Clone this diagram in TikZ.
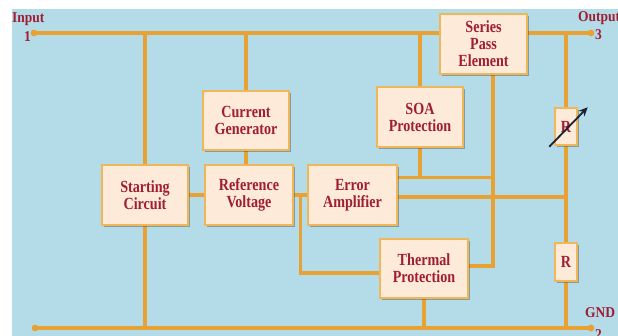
\documentclass[tikz,border=0pt]{standalone}
\usepackage{fontspec}
\setmainfont{Liberation Serif}[FakeStretch=0.83]
\newfontfamily\lblfont{Liberation Serif}[FakeStretch=0.9]
\usetikzlibrary{shadows,arrows.meta,backgrounds,calc}
\definecolor{bgblue}{HTML}{B3DCE8}
\definecolor{wirec}{HTML}{E8A234}
\definecolor{boxfill}{HTML}{FDEAD8}
\definecolor{boxline}{HTML}{EDB75A}
\definecolor{txtred}{HTML}{A01E32}
\definecolor{arrowc}{HTML}{1B2233}
\begin{document}
\begin{tikzpicture}[x=1pt,y=-1pt,
  blk/.style={draw=boxline, line width=1.5pt, fill=boxfill,
    drop shadow={shadow xshift=2.2pt, shadow yshift=-2.5pt, fill=black!70, opacity=0.45},
    text=txtred, font=\fontsize{17}{17}\selectfont\bfseries, align=center, inner sep=0pt},
  wire/.style={draw=wirec, line width=3.4pt},
  lbl/.style={text=txtred, font=\lblfont\fontsize{15}{15}\selectfont\bfseries, inner sep=0pt},
  termdot/.style={fill=wirec}]
\useasboundingbox (0,0) rectangle (618,336);
% boxes
\node[blk, minimum width=86pt, minimum height=60pt] (start) at (145,195) {Starting\\Circuit};
\node[blk, minimum width=88pt, minimum height=60pt] (ref) at (249,195) {Reference\\Voltage};
\node[blk, minimum width=86pt, minimum height=59pt] (curr) at (246,120.5) {Current\\Generator};
\node[blk, minimum width=89pt, minimum height=60pt] (err) at (352.5,195) {Error\\Amplifier};
\node[blk, minimum width=86pt, minimum height=60pt] (soa) at (420,117) {SOA\\Protection};
\node[blk, minimum width=87pt, minimum height=60pt] (sp) at (483.5,44) {Series\\Pass\\Element};
\node[blk, minimum width=88pt, minimum height=59pt] (therm) at (424,268.5) {Thermal\\Protection};
\node[blk, minimum width=22pt, minimum height=37pt] (rvar) at (566,126.5) {R};
\node[blk, minimum width=22pt, minimum height=38pt] (r2) at (566,262) {R};
% terminals
\coordinate (in1) at (34,33);
\coordinate (out3) at (591,33);
\coordinate (gnd1) at (35,328);
\coordinate (gnd2) at (591,328);
\coordinate (spb) at ($(sp.south)+(9.5,0)$);
\coordinate (j1) at ($(ref.east)!0.5!(err.west)$);
\coordinate (e1) at ($(err.north east)!0.217!(err.south east)$);
\coordinate (e2) at ($(err.north east)!0.533!(err.south east)$);
% labels
\node[lbl, anchor=base west] (linput) at (12,22.5) {Input};
\node[lbl, anchor=base east] (lone) at (31,42) {1};
\node[lbl, anchor=base west] (loutput) at (578,22) {Output};
\node[lbl, anchor=base west] (lthree) at (595,40) {3};
\node[lbl, anchor=base west] (lgnd) at (585,318) {GND};
\node[lbl, anchor=base west] (ltwo) at (595,340) {2};
% variable resistor arrow
\draw[arrowc, line width=1.8pt, -{Stealth[length=9pt,width=8pt]}]
  ($(rvar.south west)+(-5,1)$) -- ($(rvar.north east)+(10,0)$);
\begin{scope}[on background layer]
  \fill[white] (0,0) rectangle (618,336);
  \fill[bgblue] (12,9) rectangle (618,336);
  % input rail
  \draw[wire] (in1) -- (in1 -| sp.west);
  \draw[wire] (sp.east |- out3) -- (out3);
  \draw[wire] (start.north) -- (start.north |- in1);
  \draw[wire] (curr.north) -- (curr.north |- in1);
  \draw[wire] (soa.north) -- (soa.north |- in1);
  \draw[wire] (curr.south) -- (curr.south |- ref.north);
  \draw[wire] (start.east) -- (ref.west);
  \draw[wire] (ref.east) -- (err.west);
  \draw[wire] (j1) |- ($(therm.west)+(0,4.5)$);
  \draw[wire] (e1) -- (spb |- e1);
  \draw[wire] (soa.south) -- (soa.south |- e1);
  \draw[wire] (e2) -- (rvar.north |- e2);
  \draw[wire] (spb) |- ($(therm.east)+(0,-2.5)$);
  \draw[wire] (rvar.north |- out3) -- (rvar.north);
  \draw[wire] (rvar.south) -- (r2.north);
  \draw[wire] (r2.south) -- (r2.south |- gnd2);
  \draw[wire] (gnd1) -- (gnd2);
  \draw[wire] (start.south) -- (start.south |- gnd1);
  \draw[wire] (therm.south) -- (therm.south |- gnd1);
  \fill[termdot] (in1) circle (3.4);
  \fill[termdot] (out3) circle (3.4);
  \fill[termdot] (gnd1) circle (3.4);
  \fill[termdot] (gnd2) circle (3.4);
\end{scope}
\end{tikzpicture}
\end{document}
